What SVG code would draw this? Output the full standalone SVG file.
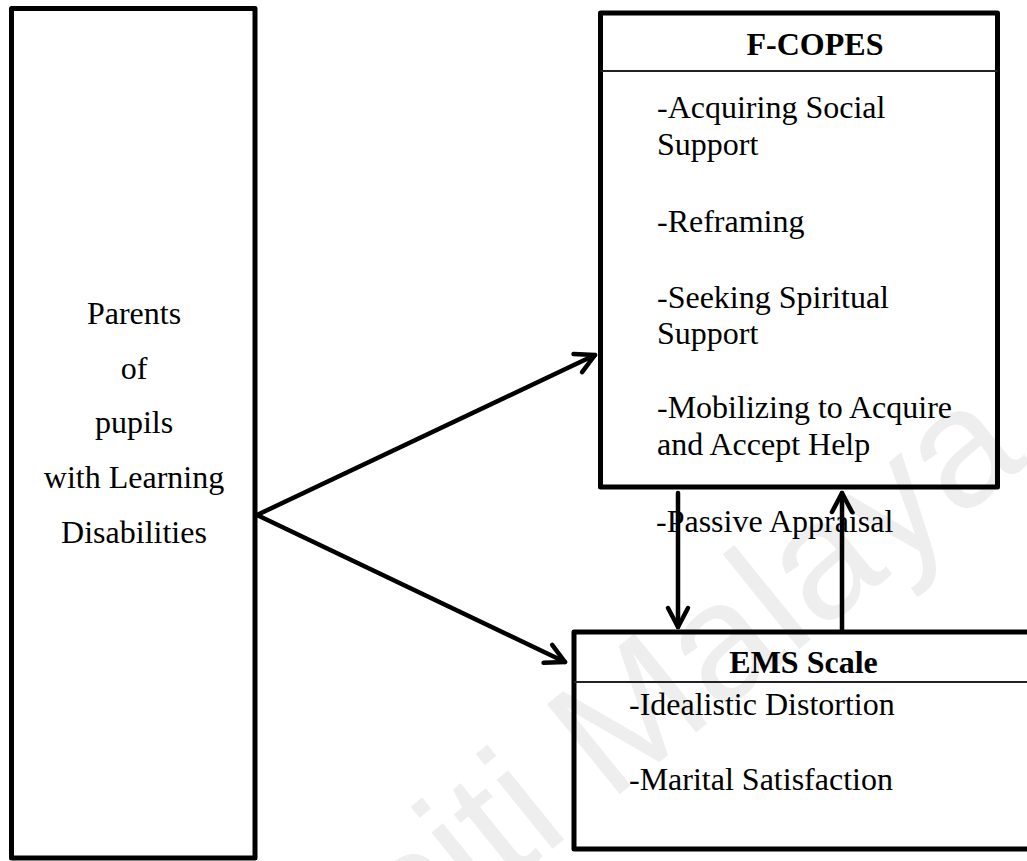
<svg xmlns="http://www.w3.org/2000/svg" width="1027" height="861" viewBox="0 0 1027 861">
<defs>
<style>
.box{fill:none;stroke:#000;stroke-width:5;stroke-linejoin:round}
.div{stroke:#222;stroke-width:1.8}
.t{font-family:"Liberation Serif","Times New Roman",serif;font-size:32px;fill:#000}
.b{font-weight:bold}
.c{text-anchor:middle}
.conn{stroke:#000;stroke-width:4.5;fill:none;stroke-linecap:round}
.wm{font-family:"Liberation Sans",Arial,sans-serif;font-size:168px;fill:#eeeeee}
</style>
<marker id="ah" markerUnits="userSpaceOnUse" markerWidth="30" markerHeight="30" viewBox="-24 -14 30 28" refX="0" refY="0" orient="auto">
<path d="M-19,-10 L0,0 L-19,10" fill="none" stroke="#000" stroke-width="4.5" stroke-linecap="round" stroke-linejoin="round"/>
</marker>
</defs>
<rect width="1027" height="861" fill="#fff"/>
<text class="wm" transform="translate(1030,462) rotate(-39)" text-anchor="end">Universiti Malaya</text>

<g id="parents">
<rect class="box" x="11.5" y="8.5" width="243.5" height="849.5"/>
<text class="t c" x="134" y="324">Parents</text>
<text class="t c" x="134" y="379">of</text>
<text class="t c" x="134" y="433">pupils</text>
<text class="t c" x="134" y="488">with Learning</text>
<text class="t c" x="134" y="543">Disabilities</text>
</g>

<g id="fcopes">
<rect class="box" x="600.5" y="13" width="397" height="474"/>
<line class="div" x1="600.5" y1="71" x2="997.5" y2="71"/>
<text class="t b c" x="815" y="55">F-COPES</text>
<text class="t" x="657" y="118">-Acquiring Social</text>
<text class="t" x="657" y="155">Support</text>
<text class="t" x="657" y="232">-Reframing</text>
<text class="t" x="657" y="308">-Seeking Spiritual</text>
<text class="t" x="657" y="344">Support</text>
<text class="t" x="657" y="418">-Mobilizing to Acquire</text>
<text class="t" x="657" y="455">and Accept Help</text>
<text class="t" x="656" y="532">-Passive Appraisal</text>
</g>

<g id="ems">
<rect class="box" x="574" y="632" width="470" height="217"/>
<line class="div" x1="574" y1="682" x2="1027" y2="682"/>
<text class="t b c" x="803.5" y="673">EMS Scale</text>
<text class="t" x="629" y="715">-Idealistic Distortion</text>
<text class="t" x="629" y="790">-Marital Satisfaction</text>
</g>

<g id="connectors">
<line class="conn" x1="257" y1="515" x2="595" y2="355" marker-end="url(#ah)"/>
<line class="conn" x1="257" y1="515" x2="565" y2="662" marker-end="url(#ah)"/>
<line class="conn" x1="678" y1="493" x2="678" y2="627" marker-end="url(#ah)"/>
<line class="conn" x1="842" y1="630" x2="842" y2="493" marker-end="url(#ah)"/>
</g>
</svg>
